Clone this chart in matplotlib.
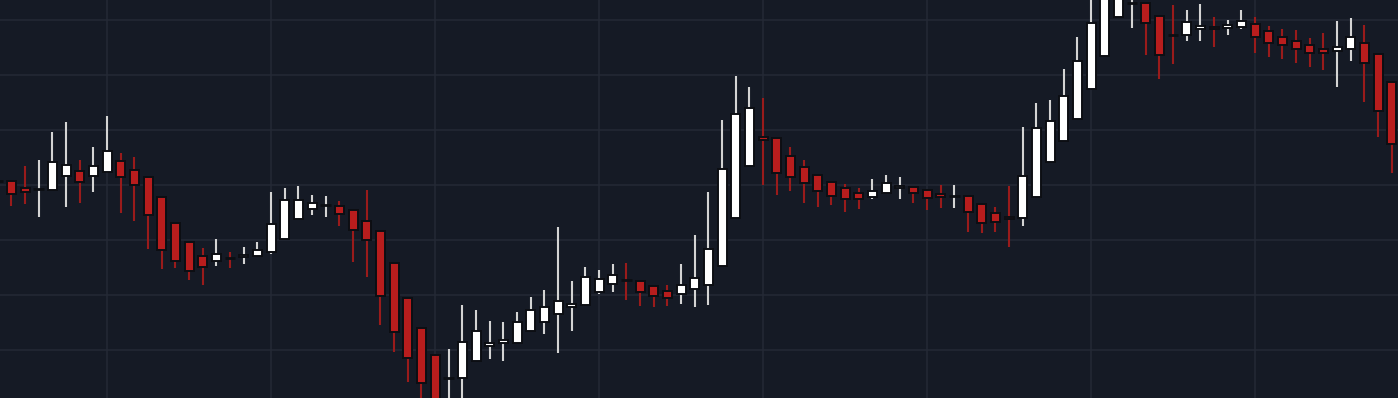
import numpy as np
import matplotlib
matplotlib.use("Agg")
import matplotlib.pyplot as plt

# OHLC values (candle index -1 is only partly visible at the left edge)
opens = [143.8, 143.8, 142.4, 142.2, 142.0, 144.8, 145.8, 144.8, 145.6, 147.8, 146.0,
         144.6, 140.6, 135.4, 131.6, 128.8, 127.8, 128.5, 128.6, 128.8, 129.6,
         132.2, 136.2, 138.2, 139.0, 138.8, 138.0, 135.8, 133.8, 127.4, 120.4,
         114.4, 109.0, 104.4, 104.4, 107.8, 110.8, 111.4, 111.4, 113.8, 115.6,
         117.2, 118.8, 119.0, 121.6, 123.2, 124.1, 123.8, 122.8, 121.8, 121.2,
         122.2, 123.0, 126.8, 136.4, 146.8, 152.6, 152.4, 148.8, 146.6, 145.0,
         143.6, 142.4, 141.4, 140.6, 141.4, 142.4, 142.6, 142.0, 141.2, 140.8,
         140.8, 139.2, 137.4, 136.6, 136.4, 140.6, 147.6, 151.8, 156.2, 162.2,
         168.8, 176.6, 179.4, 179.4, 176.8, 173.1, 173.0, 174.4, 174.6, 174.4,
         174.6, 175.2, 173.8, 172.6, 171.8, 171.0, 170.2, 169.8, 170.2, 171.4,
         169.2, 163.6]
highs = [143.8, 143.8, 146.8, 148.0, 153.6, 155.6, 148.0, 150.6, 156.8, 149.4, 148.6,
         144.6, 140.6, 135.4, 131.6, 130.4, 132.2, 129.6, 130.6, 131.6, 141.6,
         142.4, 142.8, 141.0, 140.8, 139.8, 138.0, 142.0, 133.8, 127.4, 120.4,
         114.4, 109.0, 110.2, 119.0, 118.0, 115.8, 115.6, 117.6, 120.6, 122.0,
         134.6, 123.8, 126.6, 126.0, 127.2, 127.4, 123.8, 122.8, 123.0, 127.2,
         133.0, 141.6, 156.0, 164.8, 162.6, 160.4, 152.4, 150.6, 148.0, 145.0,
         143.6, 143.2, 142.4, 144.2, 145.0, 144.6, 142.6, 142.0, 143.0, 143.0,
         140.8, 139.2, 138.6, 142.8, 154.6, 159.4, 160.0, 166.2, 172.6, 182.0,
         183.0, 184.0, 181.0, 179.4, 176.8, 179.0, 178.0, 179.2, 176.6, 176.0,
         178.0, 176.6, 174.8, 174.2, 174.0, 172.4, 173.4, 175.8, 176.4, 175.0,
         169.2, 163.6]
lows = [143.8, 138.8, 139.2, 136.6, 142.0, 138.6, 139.4, 141.6, 145.4, 137.4, 135.8,
        130.2, 126.2, 126.4, 124.0, 123.0, 126.8, 126.4, 127.2, 128.8, 129.2,
        132.2, 136.2, 137.0, 136.6, 134.8, 127.6, 124.6, 115.0, 109.6, 103.6,
        100.0, 96.0, 99.0, 100.0, 107.8, 108.2, 107.8, 111.4, 113.8, 113.2,
        109.4, 113.8, 119.0, 121.2, 121.6, 120.0, 118.8, 118.6, 118.8, 119.2,
        118.6, 119.0, 126.8, 136.4, 146.8, 143.0, 141.0, 141.8, 139.4, 138.6,
        139.0, 137.6, 138.2, 140.2, 141.4, 140.2, 139.4, 138.0, 138.4, 138.4,
        133.6, 133.4, 133.6, 130.6, 134.8, 140.6, 147.6, 151.8, 156.2, 162.2,
        168.8, 176.6, 174.4, 169.0, 164.2, 167.2, 171.8, 171.8, 170.6, 173.0,
        174.2, 169.4, 168.6, 168.2, 167.4, 166.6, 166.0, 162.6, 167.8, 159.6,
        152.6, 145.4]
closes = [143.8, 141.2, 141.6, 142.2, 147.6, 147.0, 143.6, 146.8, 149.8, 144.6, 143.0,
          137.0, 130.0, 127.8, 125.8, 126.6, 129.2, 128.4, 129.0, 130.0, 135.2,
          140.0, 140.0, 139.4, 139.0, 137.2, 134.0, 132.0, 120.8, 113.6, 108.4,
          103.4, 98.0, 104.4, 111.6, 113.8, 111.4, 112.0, 115.6, 118.0, 118.6,
          119.8, 119.0, 124.6, 124.2, 125.0, 124.0, 121.6, 120.8, 120.4, 123.0,
          124.4, 130.2, 146.2, 157.2, 158.4, 152.0, 145.4, 144.6, 143.4, 141.8,
          140.8, 140.2, 140.2, 141.8, 143.4, 142.8, 141.4, 140.4, 140.6, 140.8,
          137.6, 135.4, 135.6, 136.2, 144.8, 154.4, 155.8, 160.8, 167.8, 175.4,
          181.2, 182.4, 179.4, 175.4, 169.0, 173.0, 175.6, 174.6, 174.2, 175.0,
          175.8, 172.6, 171.4, 171.0, 170.2, 169.4, 169.4, 170.6, 172.6, 167.4,
          157.8, 151.2]

idx = np.arange(len(opens)) - 1
o = np.array(opens)
h = np.array(highs)
l = np.array(lows)
c = np.array(closes)
up = c >= o

bg = "#151a25"
grid_c = "#242935"
red = "#b81d1d"
red_wick = "#9a1b1b"
white = "#ffffff"
white_wick = "#d4d4d4"
edge = "#0c0e13"
body_w = 0.66

fig = plt.figure(figsize=(13.98, 3.98), dpi=100, facecolor=bg)
ax = fig.add_axes([0, 0, 1, 1])
ax.set_facecolor(bg)

# grid every 12 candles / 11 price units
for gx in range(7, 102, 12):
    ax.axvline(gx, color=grid_c, lw=1.1, zorder=0)
for gy in np.arange(110, 180, 11):
    ax.axhline(gy, color=grid_c, lw=1.1, zorder=0)

ax.vlines(idx[up], l[up], h[up], color=white_wick, lw=1.5, zorder=1)
ax.vlines(idx[~up], l[~up], h[~up], color=red_wick, lw=1.5, zorder=1)

# flat dojis are just a dark dash, the rest get a box with a minimum height
flat = np.abs(c - o) < 0.15
mid = (o + c) / 2
body_h = np.maximum(np.abs(c - o), 0.5)
body_lo = mid - body_h / 2
ax.bar(idx[~flat], body_h[~flat], bottom=body_lo[~flat], width=body_w,
       color=np.where(up, white, red)[~flat], edgecolor=edge, linewidth=1.4, zorder=2)
ax.hlines(mid[flat], idx[flat] - body_w / 2 - 0.05, idx[flat] + body_w / 2 + 0.05,
          color=edge, lw=2.0, zorder=2)

ax.set_xlim(-0.83, 101.46)
ax.set_ylim(100.4, 180)
ax.axis("off")

fig.savefig("out.png", dpi=100, facecolor=bg)
